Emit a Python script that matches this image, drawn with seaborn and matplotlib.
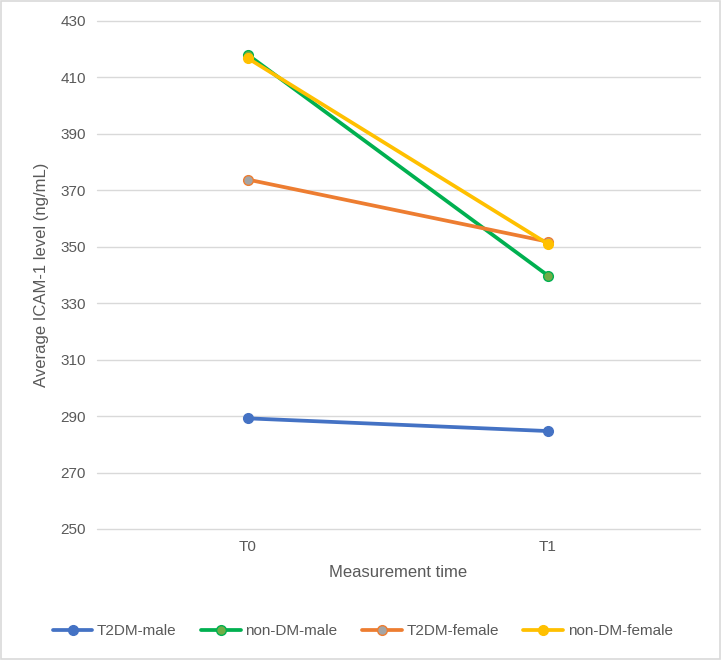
import matplotlib
matplotlib.use("Agg")
import matplotlib.pyplot as plt
import seaborn as sns
import pandas as pd

times = ["T0", "T1"]
series_names = ["T2DM-male", "non-DM-male", "T2DM-female", "non-DM-female"]
t2dm_male = [289.2, 284.7]
non_dm_male = [418.0, 339.8]
t2dm_female = [373.8, 351.8]
non_dm_female = [416.8, 351.0]
y_ticks = [250, 270, 290, 310, 330, 350, 370, 390, 410, 430]

rows = []
for name, vals in zip(series_names, [t2dm_male, non_dm_male, t2dm_female, non_dm_female]):
    for i, (t, v) in enumerate(zip(times, vals)):
        rows.append({"time": t, "x": i, "value": v, "series": name})
df = pd.DataFrame(rows)

sns.set_theme(style="white")
plt.rcParams['font.family'] = ['Liberation Sans', 'DejaVu Sans']

line_colors = {"T2DM-male": "#4472C4", "non-DM-male": "#00B050",
               "T2DM-female": "#ED7D31", "non-DM-female": "#FFC000"}
face_colors = {"T2DM-male": "#4472C4", "non-DM-male": "#70AD47",
               "T2DM-female": "#A5A5A5", "non-DM-female": "#FFC000"}

fig = plt.figure(figsize=(7.21, 6.6), dpi=100)
ax = fig.add_axes([0.1345, 0.1985, 0.8365, 0.7697])

for name in series_names:
    sub = df[df.series == name]
    sns.lineplot(data=sub, x="x", y="value", ax=ax, color=line_colors[name],
                 linewidth=2.7, marker="o", markersize=7,
                 markerfacecolor=face_colors[name], markeredgecolor=line_colors[name],
                 markeredgewidth=1.0, label=name, legend=False, zorder=3)

ax.set_xlim(-0.503, 1.507)
ax.set_ylim(250, 430)
ax.set_yticks(y_ticks)
ax.set_xticks([0, 1])
ax.set_xticklabels(times)
ax.yaxis.grid(True, color="#D9D9D9", linewidth=1)
for gl in ax.get_ygridlines():
    gl.set_clip_on(False)
ax.xaxis.grid(False)
for s in ax.spines.values():
    s.set_visible(False)
ax.tick_params(axis="both", colors="#595959", labelsize=11, length=0, pad=8)
ax.set_xlabel("Measurement time", fontsize=12, color="#595959", labelpad=8)
ax.set_ylabel("Average ICAM-1 level (ng/mL)", fontsize=12, color="#595959", labelpad=8)

handles = ax.get_lines()[:4]
fig.legend(handles=handles, labels=series_names, loc="center", bbox_to_anchor=(0.503, 0.044),
           ncol=4, frameon=False, fontsize=11, handlelength=2.6, handletextpad=0.3,
           columnspacing=1.6, numpoints=1, labelcolor="#595959")

fig.patches.append(plt.Rectangle((0.001, 0.001), 0.997, 0.997, transform=fig.transFigure,
                                 fill=False, edgecolor="#D9D9D9", linewidth=1.2))
fig.savefig("out.png", dpi=100, facecolor="white")
